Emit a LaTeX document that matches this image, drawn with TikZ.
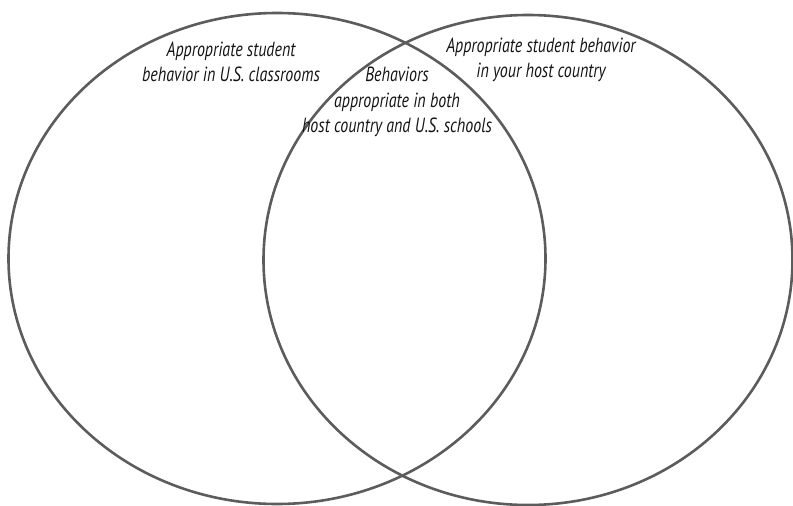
\documentclass[tikz,border=0pt]{standalone}
\usepackage{fontspec}
\setmainfont{PT Sans}[FakeStretch=0.78]
\usetikzlibrary{shapes.geometric}
\definecolor{ringgray}{RGB}{92,92,92}
\definecolor{ink}{RGB}{20,20,20}
\tikzset{
	setring/.style={ellipse,draw=ringgray,line width=2.6pt,inner sep=0pt},
	setlabel/.style={align=center,text=ink,inner sep=0pt,
		font=\fontsize{20.5}{25.5}\selectfont\itshape},
}

\begin{document}
\begin{tikzpicture}[x=1pt,y=-1pt]
		\useasboundingbox (0,0) rectangle (793,506);
		\node[setring,minimum width=537pt,minimum height=491pt] (usring) at (277,258.5) {};
		\node[setring,minimum width=529pt,minimum height=490pt] (hostring) at (528,260) {};
		
		\node[setlabel] (uslabel) at (231,62)
		{Appropriate student\\behavior in U.S. classrooms};
		\node[setlabel] (hostlabel) at (541,60)
		{Appropriate student behavior\\in your host country};
		\node[setlabel] (bothlabel) at (397,102)
		{Behaviors\\appropriate in both\\host country and U.S. schools};
		
	\end{tikzpicture}
\end{document}
